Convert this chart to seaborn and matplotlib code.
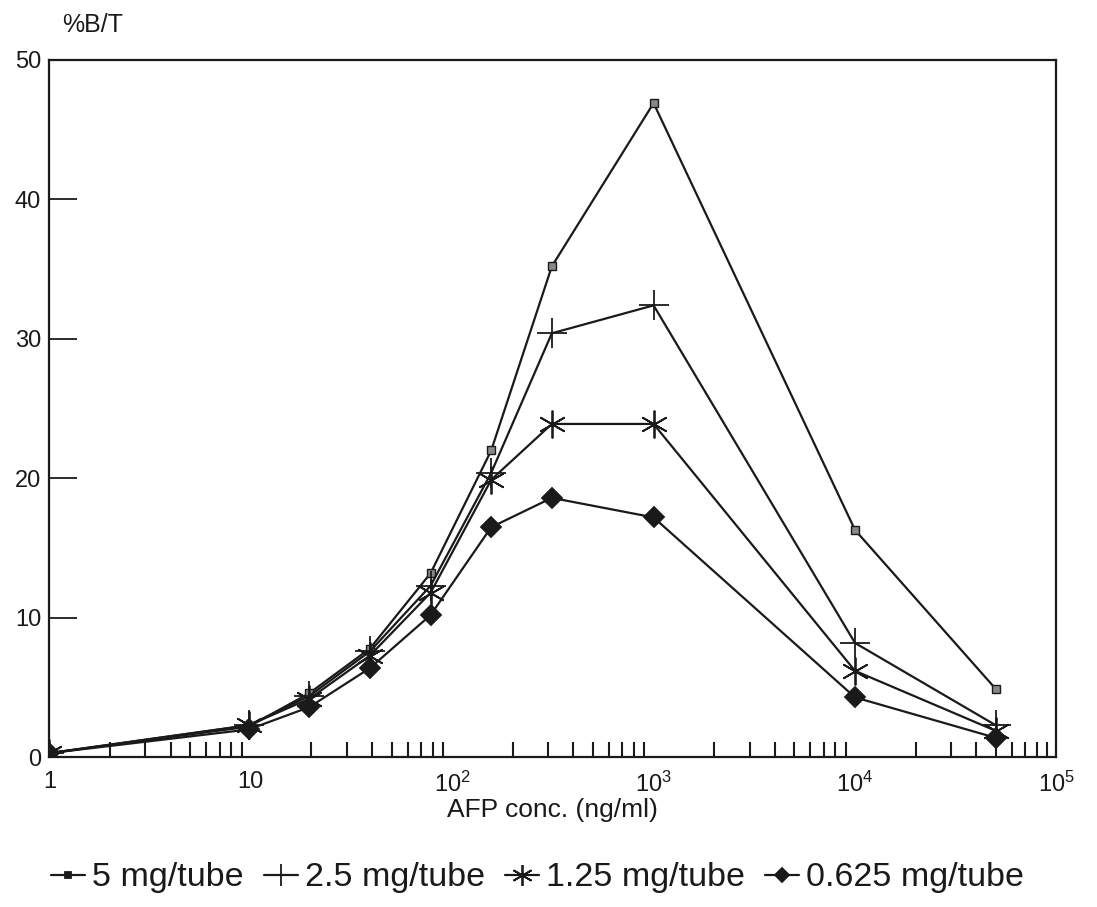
import numpy as np
import pandas as pd
import matplotlib
matplotlib.use("Agg")
import matplotlib.pyplot as plt
import seaborn as sns
from matplotlib.lines import Line2D
from matplotlib.ticker import FixedLocator, NullFormatter

# ---- data ----
conc = [1, 9.77, 19.53, 39.06, 78.13, 156.25, 312.5, 1000, 10000, 50000]
s5 = [0.3, 2.2, 4.6, 7.8, 13.2, 22.0, 35.2, 46.9, 16.3, 4.9]
s25 = [0.3, 2.3, 4.4, 7.6, 12.3, 20.4, 30.4, 32.4, 8.2, 2.3]
s125 = [0.3, 2.3, 4.2, 7.3, 11.8, 19.9, 23.9, 23.9, 6.2, 1.9]
s0625 = [0.3, 2.0, 3.6, 6.4, 10.2, 16.5, 18.6, 17.2, 4.3, 1.4]
series_names = ["5 mg/tube", "2.5 mg/tube", "1.25 mg/tube", "0.625 mg/tube"]
x_tick_vals = [1, 10, 100, 1000, 10000, 100000]
x_tick_labels = ["1", "10", "$10^2$", "$10^3$", "$10^4$", "$10^5$"]
y_tick_vals = [0, 10, 20, 30, 40, 50]

df = pd.DataFrame({
    "conc": conc * 4,
    "val": s5 + s25 + s125 + s0625,
    "series": sum([[n] * len(conc) for n in series_names], []),
})

sns.set_theme(style="white")
plt.rcParams['font.family'] = ['Liberation Sans', 'DejaVu Sans']
plt.rcParams['mathtext.fontset'] = 'custom'
plt.rcParams['mathtext.rm'] = 'Liberation Sans'
plt.rcParams['mathtext.it'] = 'Liberation Sans'

fig = plt.figure(figsize=(10.97, 9.07), dpi=100)
ax = fig.add_axes([0.045, 0.165, 0.918, 0.769])

markers = {"5 mg/tube": "s", "2.5 mg/tube": "+", "1.25 mg/tube": (6, 2, 0),
           "0.625 mg/tube": "D"}
msizes = {"5 mg/tube": 6, "2.5 mg/tube": 22, "1.25 mg/tube": 20, "0.625 mg/tube": 10}
for name in series_names:
    sub = df[df.series == name]
    sns.lineplot(data=sub, x="conc", y="val", ax=ax, color="#1a1a1a", lw=1.6,
                 marker=markers[name], markersize=msizes[name],
                 markeredgewidth=1.3 if name != "5 mg/tube" else 1.0,
                 markerfacecolor="#1a1a1a" if name == "0.625 mg/tube" else "#888888",
                 markeredgecolor="#1a1a1a", legend=False)

ax.set_xscale("log")
ax.set_xlim(1, 1e5)
ax.set_ylim(0, 50)
ax.set_xticks(x_tick_vals)
ax.set_xticklabels(x_tick_labels, fontsize=17)
minors = [m * 10 ** d for d in range(0, 5) for m in range(2, 10)]
ax.xaxis.set_minor_locator(FixedLocator(minors))
ax.xaxis.set_minor_formatter(NullFormatter())
ax.set_yticks(y_tick_vals)
ax.set_yticklabels([str(v) for v in y_tick_vals], fontsize=17)
ax.tick_params(axis="x", which="major", direction="in", length=20, width=1.5,
               color="#1a1a1a", pad=10, labelcolor="#1a1a1a")
ax.tick_params(axis="x", which="minor", direction="in", length=11, width=1.5,
               color="#1a1a1a", bottom=True)
ax.tick_params(axis="y", which="major", direction="in", length=20, width=1.3,
               color="#1a1a1a", pad=6, labelcolor="#1a1a1a", left=True)
for s in ax.spines.values():
    s.set_color("#1a1a1a")
    s.set_linewidth(1.6)
ax.set_xlabel("AFP conc. (ng/ml)", fontsize=19, color="#1a1a1a", labelpad=1)
ax.set_ylabel("")
fig.text(0.057, 0.972, "%B/T", fontsize=18, color="#1a1a1a", va="center", ha="left")

handles = []
for name in series_names:
    handles.append(Line2D([0], [0], color="#1a1a1a", lw=1.6, marker=markers[name],
                          markersize=msizes[name] * (0.75 if name != "5 mg/tube" else 0.8),
                          markerfacecolor="#1a1a1a" if name != "2.5 mg/tube" else "#888888",
                          markeredgecolor="#1a1a1a", markeredgewidth=1.3))
fig.legend(handles, series_names, loc="center", bbox_to_anchor=(0.49, 0.032), ncol=4,
           frameon=False, fontsize=24.5, handlelength=1.0, handletextpad=0.2,
           columnspacing=0.6, labelcolor="#1a1a1a")

fig.savefig("out.png", dpi=100, facecolor="white")
